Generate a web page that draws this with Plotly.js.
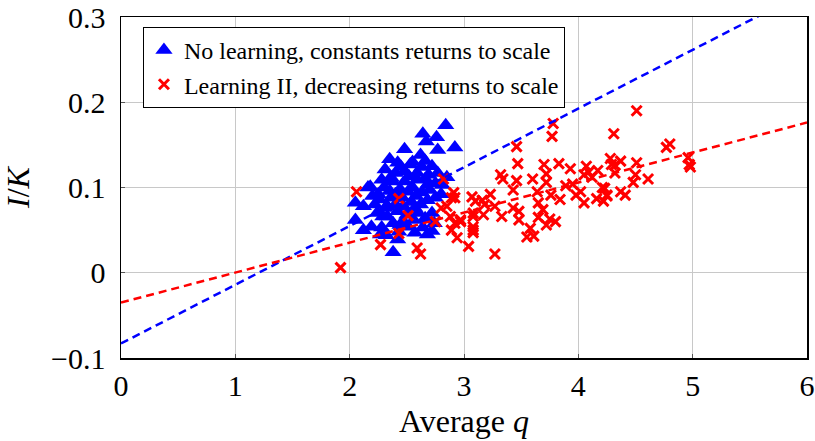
<!DOCTYPE html>
<html>
<head>
<meta charset="utf-8">
<script src="https://cdn.plot.ly/plotly-3.0.1.min.js"></script>
<style>
  html, body { margin: 0; padding: 0; background: #fff; }
  #chart { width: 815px; height: 441px; }
</style>
</head>
<body>
<div id="chart"></div>
<script>
/***** data *****/
var noLearnX = [2.84, 2.64, 2.76, 2.48, 2.67, 2.77, 2.92, 2.62, 2.35, 2.42, 2.53, 2.66, 2.72, 2.31,
  2.40, 2.48, 2.59, 2.69, 2.77, 2.28, 2.38, 2.48, 2.59, 2.69, 2.18, 2.55, 2.75, 2.81,
  2.05, 2.05, 2.16, 2.25, 2.35, 2.51, 2.63, 2.75, 2.22, 2.31, 2.40, 2.50, 2.57, 2.72,
  2.19, 2.28, 2.44, 2.51, 2.64, 2.72, 2.42, 2.38, 2.33, 2.12, 2.66, 2.46,
  2.30, 2.44, 2.58, 2.68, 2.26, 2.36, 2.54, 2.62, 2.42, 2.29, 2.56, 2.47, 2.36, 2.52,
  2.63, 2.45, 2.33, 2.24, 2.70, 2.80, 2.85, 2.60, 2.38, 2.27, 2.57, 2.47, 2.66, 2.40,
  2.55, 2.20, 2.12, 2.74, 2.68, 2.43, 2.32];
var noLearnY = [0.173, 0.163, 0.159, 0.145, 0.154, 0.144, 0.147, 0.138, 0.133, 0.129, 0.127, 0.131, 0.125, 0.121,
  0.117, 0.119, 0.117, 0.115, 0.117, 0.109, 0.107, 0.107, 0.109, 0.105, 0.101, 0.100, 0.105, 0.103,
  0.082, 0.062, 0.100, 0.092, 0.096, 0.095, 0.094, 0.088, 0.080, 0.076, 0.080, 0.068, 0.076, 0.070,
  0.054, 0.053, 0.056, 0.054, 0.053, 0.049, 0.039, 0.024, 0.066, 0.050, 0.064, 0.088,
  0.100, 0.098, 0.090, 0.085, 0.086, 0.088, 0.083, 0.080, 0.072, 0.066, 0.062, 0.078, 0.112, 0.113,
  0.124, 0.124, 0.078, 0.070, 0.097, 0.092, 0.112, 0.070, 0.058, 0.045, 0.047, 0.060, 0.110, 0.092,
  0.130, 0.090, 0.078, 0.058, 0.045, 0.048, 0.044];

var learnX = [1.92, 2.06, 2.43, 2.82, 2.51, 2.43, 2.27, 2.59, 2.62, 2.75, 2.80, 2.89, 2.91, 2.88,
  2.92, 2.97, 3.04, 3.07, 3.08, 3.08, 2.94, 2.92, 3.10, 3.23, 3.18, 3.27, 3.33, 3.43,
  3.43, 3.48, 3.48, 3.64, 3.65, 3.69, 3.65, 3.72, 3.80, 3.76, 3.84, 3.55, 3.61, 3.98,
  4.05, 4.16, 4.21, 4.25, 3.89, 4.02, 3.27, 2.97, 3.08, 3.08, 2.85, 2.89, 3.08, 3.17,
  3.16, 3.78, 3.77, 4.31, 3.46, 3.47, 3.32, 3.34, 3.46, 3.60, 3.72, 3.72, 3.70, 3.83,
  3.93, 4.07, 4.09, 4.17, 4.28, 4.32, 4.51, 4.80, 4.77, 4.96, 4.97, 4.98, 4.29, 4.37,
  4.32, 4.51, 4.50, 4.61, 4.48, 4.23, 4.37, 4.41, 4.25, 4.22, 4.12, 4.05, 3.95, 3.58, 3.75];
var learnY = [0.006, 0.095, 0.087, 0.110, 0.067, 0.046, 0.033, 0.029, 0.022, 0.060, 0.076, 0.088, 0.094, 0.066,
  0.058, 0.062, 0.031, 0.089, 0.066, 0.050, 0.041, 0.088, 0.084, 0.092, 0.080, 0.078, 0.066, 0.097,
  0.076, 0.072, 0.062, 0.095, 0.082, 0.074, 0.065, 0.056, 0.060, 0.091, 0.086, 0.042, 0.043, 0.091,
  0.082, 0.087, 0.100, 0.090, 0.102, 0.095, 0.022, 0.060, 0.054, 0.047, 0.078, 0.050, 0.070, 0.068,
  0.085, 0.175, 0.160, 0.163, 0.148, 0.128, 0.115, 0.110, 0.108, 0.110, 0.116, 0.106, 0.127, 0.128,
  0.122, 0.125, 0.118, 0.120, 0.134, 0.126, 0.190, 0.151, 0.147, 0.135, 0.127, 0.124, 0.127, 0.131,
  0.117, 0.129, 0.115, 0.110, 0.106, 0.099, 0.095, 0.091, 0.091, 0.084, 0.112, 0.115, 0.104, 0.052, 0.063];

// fitted lines: intercept, slope
var noLearnFit = [-0.083, 0.0689];
var learnFit = [-0.035, 0.0352];
var fitX = [0, 6];

var xTicks = [0, 1, 2, 3, 4, 5, 6];
var yTicks = [-0.1, 0, 0.1, 0.2, 0.3];
var yTickText = ['\u22120.1', '0', '0.1', '0.2', '0.3'];

function fitLine(p) {
  return fitX.map(function (x) { return p[0] + p[1] * x; });
}

/***** traces *****/
var serif = '"Liberation Serif", "DejaVu Serif", serif';

var blueDots = {
  x: noLearnX,
  y: noLearnY,
  type: 'scatter',
  mode: 'markers',
  name: 'No learning, constants returns to scale',
  marker: {
    symbol: 'triangle-up',
    color: '#0000ff',
    size: 15,
    line: { width: 0 }
  }
};

var blueLine = {
  x: fitX,
  y: fitLine(noLearnFit),
  type: 'scatter',
  mode: 'lines',
  showlegend: false,
  hoverinfo: 'skip',
  line: { color: '#0000ff', width: 2.5, dash: '8px,5px' }
};

var redDots = {
  x: learnX,
  y: learnY,
  type: 'scatter',
  mode: 'markers',
  name: 'Learning II, decreasing returns to scale',
  marker: {
    symbol: 'x-thin-open',
    color: '#ff0000',
    size: 10,
    line: { color: '#ff0000', width: 3 }
  }
};

var redLine = {
  x: fitX,
  y: fitLine(learnFit),
  type: 'scatter',
  mode: 'lines',
  showlegend: false,
  hoverinfo: 'skip',
  line: { color: '#ff0000', width: 2.5, dash: '8px,5px' }
};

var layout = {
  width: 815,
  height: 441,
  margin: { l: 121, r: 8, t: 17, b: 83 },
  paper_bgcolor: '#fff',
  plot_bgcolor: '#fff',
  font: { family: serif, color: '#000' },
  showlegend: true,
  legend: {
    x: 0.032,
    y: 0.971,
    xanchor: 'left',
    yanchor: 'top',
    bgcolor: '#fff',
    bordercolor: '#000',
    borderwidth: 1,
    font: { family: serif, size: 24, color: '#000' },
    itemwidth: 30,
    tracegroupgap: 0
  },
  xaxis: {
    range: [0, 6],
    tickvals: xTicks,
    ticktext: xTicks.map(String),
    showgrid: true,
    gridcolor: '#c8c8c8',
    gridwidth: 1,
    zeroline: false,
    showline: true,
    linecolor: '#000',
    linewidth: 1.5,
    mirror: true,
    ticks: 'inside',
    ticklen: 4,
    tickcolor: '#555',
    tickfont: { family: serif, size: 30, color: '#000' }
  },
  yaxis: {
    range: [-0.1, 0.3],
    tickvals: yTicks,
    ticktext: yTickText,
    showgrid: true,
    gridcolor: '#c8c8c8',
    gridwidth: 1,
    zeroline: false,
    showline: true,
    linecolor: '#000',
    linewidth: 1.5,
    mirror: true,
    ticks: 'inside',
    ticklen: 4,
    tickcolor: '#555',
    ticklabelstandoff: 8,
    tickfont: { family: serif, size: 30, color: '#000' },
    title: { text: '<i>I</i>/<i>K</i>', font: { family: serif, size: 32, color: '#000' }, standoff: 14 }
  },
  annotations: [{
    text: 'Average <i>q</i>',
    xref: 'paper', yref: 'paper',
    x: 0.5, y: 0,
    xanchor: 'center', yanchor: 'top',
    yshift: -43,
    showarrow: false,
    font: { family: serif, size: 32, color: '#000' }
  }]
};

var config = { staticPlot: true, displayModeBar: false };

var data = [blueDots, redDots, blueLine, redLine];
Plotly.newPlot('chart', data, layout, config);
</script>
</body>
</html>
